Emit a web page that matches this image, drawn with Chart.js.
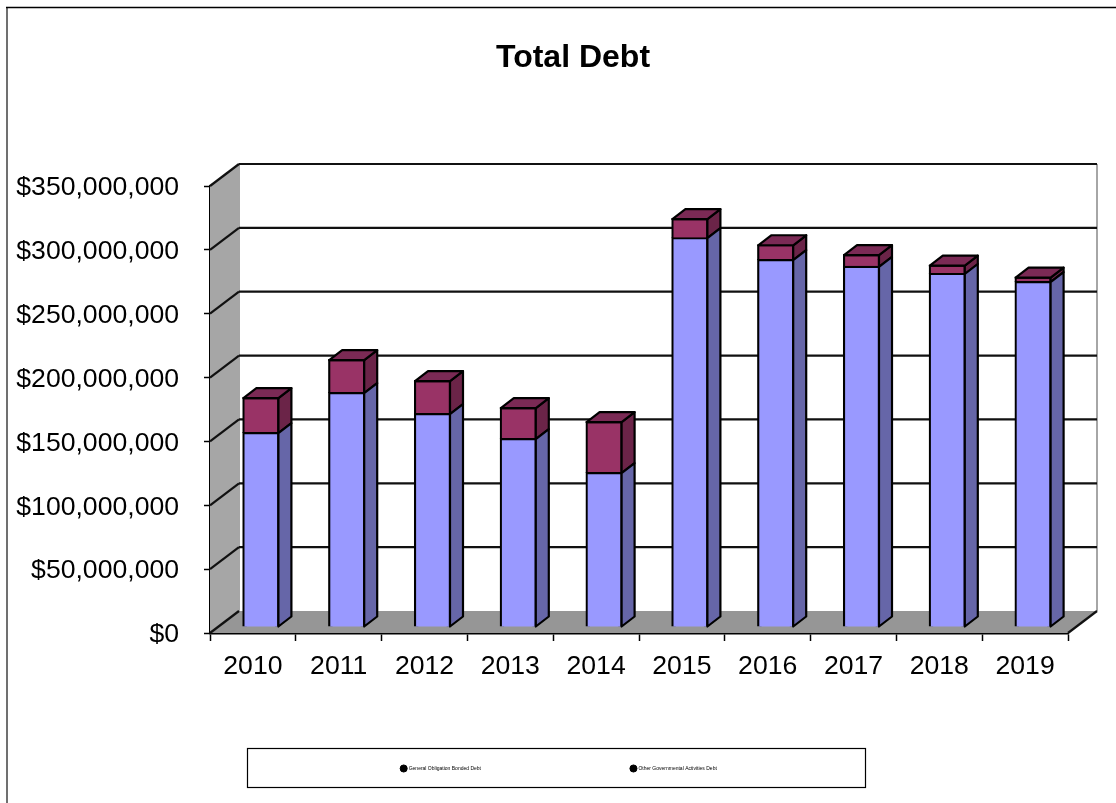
<!DOCTYPE html>
<html>
<head>
<meta charset="utf-8">
<title>Total Debt</title>
<script src="https://cdn.jsdelivr.net/npm/chart.js@4/dist/chart.umd.min.js"></script>
<style>
  html, body { margin: 0; padding: 0; background: #fff; }
  canvas { display: block; }
</style>
</head>
<body>
<canvas id="chart-debt" width="1116" height="803"></canvas>
<script>
const years = ['2010', '2011', '2012', '2013', '2014', '2015', '2016', '2017', '2018', '2019'];
const generalObligation = [151800000, 183100000, 166700000, 147100000, 120500000, 304400000, 287200000, 281900000, 276400000, 270000000];
const otherGovernmental = [27400000, 25800000, 25800000, 24300000, 39900000, 14900000, 11700000, 9300000, 6500000, 3500000];
const yTicks = [0, 50000000, 100000000, 150000000, 200000000, 250000000, 300000000, 350000000];

const fontFamily = '"Liberation Sans", Arial, sans-serif';

// depth of the box the bars stand in
const wallDx = 29, wallDy = 22;
// how far the bars stand behind the front plane, and how deep each one is
const barShiftX = 8, barShiftY = 6;
const barDx = 13, barDy = 10;
const barLine = 2.2;

const sideColors = ['#6666a8', '#6b2448'];
const topColor = '#7b2a55';

function quad(ctx, pts, fill, stroke, lineWidth) {
  ctx.beginPath();
  ctx.moveTo(pts[0][0], pts[0][1]);
  for (let i = 1; i < pts.length; i++) ctx.lineTo(pts[i][0], pts[i][1]);
  ctx.closePath();
  if (fill) { ctx.fillStyle = fill; ctx.fill(); }
  if (stroke) {
    ctx.strokeStyle = stroke;
    ctx.lineWidth = lineWidth;
    ctx.lineJoin = 'round';
    ctx.stroke();
  }
}

function line(ctx, x1, y1, x2, y2, color, width) {
  ctx.beginPath();
  ctx.moveTo(x1, y1);
  ctx.lineTo(x2, y2);
  ctx.strokeStyle = color;
  ctx.lineWidth = width;
  ctx.stroke();
}

const frame3d = {
  id: 'frame3d',
  afterLayout(chart) {
    // title sits right of the canvas centre
    chart.titleBlock.left = 30;
    chart.titleBlock.right = chart.width;
    // legend row goes inside its box, labels.padding counts as space above it
    const legend = chart.legend;
    legend.left = 1;
    legend.right = chart.width + 1;
    legend.top = 766 - legend.options.labels.padding;
    // y labels hang a little below their tick marks
    const yScale = chart.scales.y;
    const drawLabels = yScale.drawLabels;
    yScale.drawLabels = function (area) {
      chart.ctx.save();
      chart.ctx.translate(0, 2);
      drawLabels.call(yScale, area);
      chart.ctx.restore();
    };
  },
  beforeDraw(chart) {
    const ctx = chart.ctx;
    ctx.save();
    ctx.fillStyle = '#fff';
    ctx.fillRect(0, 0, chart.width, chart.height);
    // outer border
    line(ctx, 7, 7, 7, chart.height, '#707070', 2);
    line(ctx, 6, 7.5, chart.width, 7.5, '#000', 1.5);
    // legend box
    ctx.strokeStyle = '#000';
    ctx.lineWidth = 1.2;
    ctx.strokeRect(247.5, 748.5, 618, 39);
    ctx.restore();
  },
  beforeDatasetsDraw(chart) {
    const ctx = chart.ctx;
    const { left, right, top, bottom } = chart.chartArea;
    const y = chart.scales.y;
    ctx.save();
    // left wall and floor
    quad(ctx, [[left, top], [left + wallDx, top - wallDy], [left + wallDx, bottom - wallDy], [left, bottom]], '#a6a6a6');
    quad(ctx, [[left, bottom], [right, bottom], [right + wallDx, bottom - wallDy], [left + wallDx, bottom - wallDy]], '#969696');
    line(ctx, left + wallDx, top - wallDy, left + wallDx, bottom - wallDy, '#a6a6a6', 2);
    line(ctx, right + wallDx, top - wallDy, right + wallDx, bottom - wallDy, '#a6a6a6', 2);
    // gridlines run up the wall and across the back
    yTicks.forEach(v => {
      const py = y.getPixelForValue(v);
      line(ctx, left, py, left + wallDx, py - wallDy, '#111', 2.2);
      if (v > 0) line(ctx, left + wallDx, py - wallDy, right + wallDx, py - wallDy, '#111', 2.2);
    });
    line(ctx, right, bottom, right + wallDx, bottom - wallDy, '#111', 2.2);
    ctx.restore();
  },
  beforeDatasetDraw(chart) {
    chart.ctx.save();
    chart.ctx.translate(barShiftX, -barShiftY);
  },
  afterDatasetDraw(chart, args) {
    const ctx = chart.ctx;
    const last = chart.data.datasets.length - 1;
    args.meta.data.forEach(bar => {
      const p = bar.getProps(['x', 'y', 'base', 'width'], true);
      const r = p.x + p.width / 2;
      const l = p.x - p.width / 2;
      quad(ctx, [[r, p.y], [r + barDx, p.y - barDy], [r + barDx, p.base - barDy], [r, p.base]], sideColors[args.index], '#000', barLine);
      if (args.index === last) {
        quad(ctx, [[l, p.y], [l + barDx, p.y - barDy], [r + barDx, p.y - barDy], [r, p.y]], topColor, '#000', barLine);
      }
    });
    ctx.restore();
  }
};

new Chart(document.getElementById('chart-debt').getContext('2d'), {
  type: 'bar',
  data: {
    labels: years,
    datasets: [
      {
        label: 'General Obligation Bonded Debt',
        data: generalObligation,
        backgroundColor: '#9999ff',
        borderColor: '#000',
        borderWidth: barLine,
        inflateAmount: barLine / 2,
        barThickness: 35
      },
      {
        label: 'Other Governmental Activities Debt',
        data: otherGovernmental,
        backgroundColor: '#993366',
        borderColor: '#000',
        borderWidth: barLine,
        inflateAmount: barLine / 2,
        barThickness: 35
      }
    ]
  },
  plugins: [frame3d],
  options: {
    responsive: false,
    animation: false,
    layout: { padding: { right: 48 } },
    plugins: {
      title: {
        display: true,
        text: 'Total Debt',
        color: '#000',
        font: { family: fontFamily, size: 32, weight: 'bold' },
        padding: { top: 39, bottom: 108.6 }
      },
      legend: {
        position: 'bottom',
        maxHeight: 20,
        labels: {
          color: '#222',
          font: { family: fontFamily, size: 5 },
          usePointStyle: true,
          pointStyle: 'circle',
          padding: 150,
          generateLabels: chart => chart.data.datasets.map((ds, i) => ({
            text: ds.label,
            fillStyle: '#000',
            strokeStyle: '#000',
            pointStyle: 'circle',
            datasetIndex: i
          }))
        }
      },
      tooltip: { enabled: false }
    },
    scales: {
      x: {
        stacked: true,
        afterFit: scale => { scale.height = 150; },
        border: { color: '#000', width: 2.5 },
        grid: { drawOnChartArea: false, color: '#000', tickLength: 8, tickWidth: 1.5 },
        ticks: {
          color: '#000',
          maxRotation: 0,
          autoSkip: false,
          padding: 10,
          font: { family: fontFamily, size: 26.6 }
        }
      },
      y: {
        stacked: true,
        min: 0,
        max: 350000000,
        afterFit: scale => { scale.width = 210; },
        afterBuildTicks: scale => { scale.ticks = yTicks.map(v => ({ value: v })); },
        border: { color: '#000', width: 2 },
        grid: { drawOnChartArea: false, color: '#000', tickLength: 6, tickWidth: 1.5 },
        ticks: {
          color: '#000',
          padding: 25,
          font: { family: fontFamily, size: 26.6 },
          callback: v => '$' + Number(v).toLocaleString('en-US')
        }
      }
    }
  }
});
</script>
</body>
</html>
